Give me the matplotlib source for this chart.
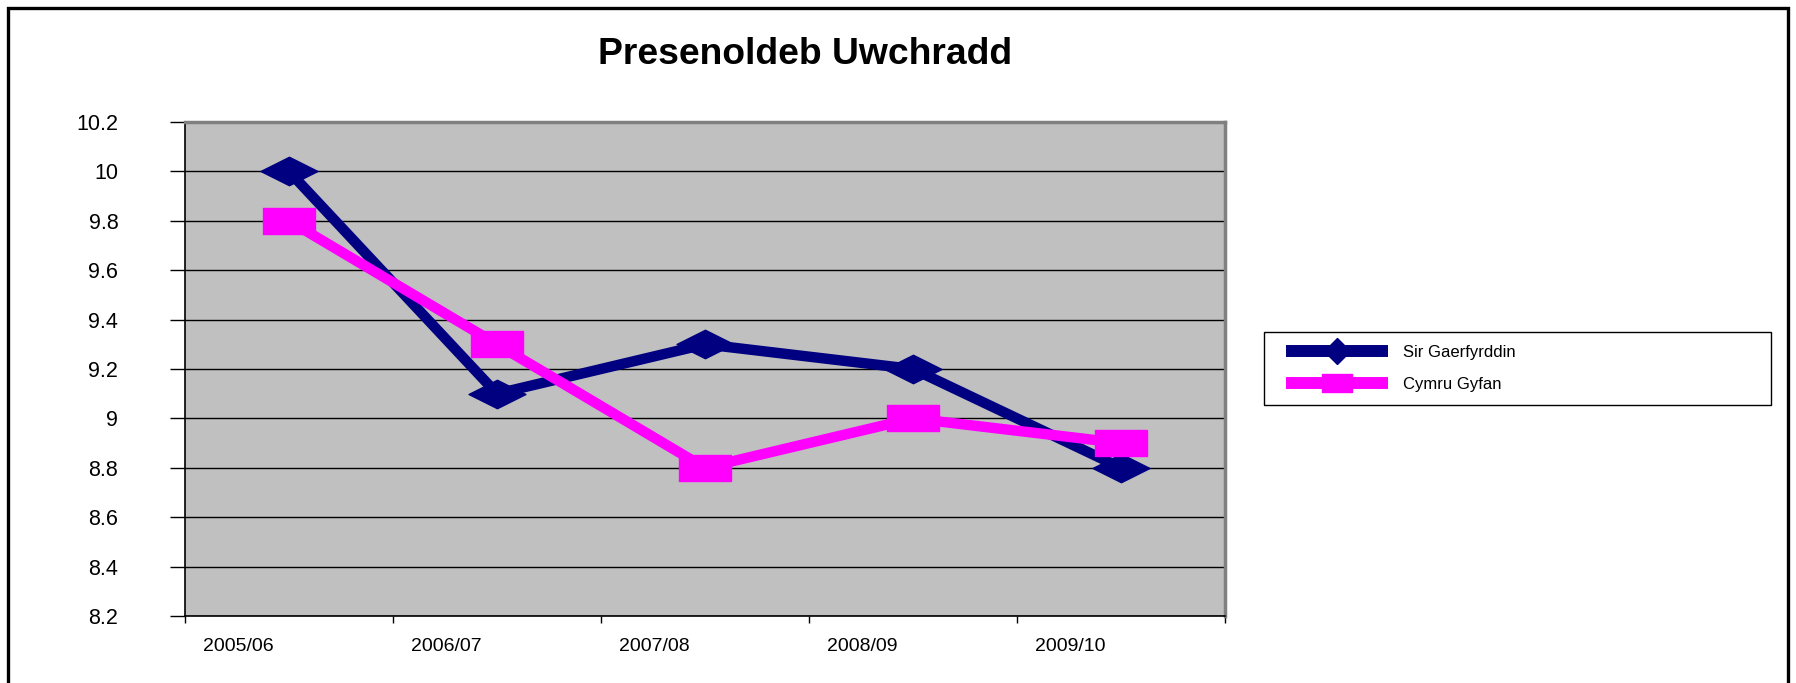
import matplotlib
matplotlib.use("Agg")
import matplotlib.pyplot as plt
from matplotlib.path import Path
from matplotlib.lines import Line2D
from matplotlib.patches import Rectangle

plt.rcParams['font.family'] = ['Liberation Sans', 'DejaVu Sans']

title = "Presenoldeb Uwchradd"
years = ["2005/06", "2006/07", "2007/08", "2008/09", "2009/10"]
sir_gaerfyrddin = [10.0, 9.1, 9.3, 9.2, 8.8]
cymru_gyfan = [9.8, 9.3, 8.8, 9.0, 8.9]
series_names = ["Sir Gaerfyrddin", "Cymru Gyfan"]
y_ticks = [8.2, 8.4, 8.6, 8.8, 9.0, 9.2, 9.4, 9.6, 9.8, 10.0, 10.2]
y_tick_labels = ["8.2", "8.4", "8.6", "8.8", "9", "9.2", "9.4", "9.6", "9.8", "10", "10.2"]

W, H = 1796, 683
fig = plt.figure(figsize=(W / 100, H / 100), dpi=100)

# flattened marker shapes (twice as wide as tall)
diamond = Path([(-1, 0), (0, 0.5), (1, 0), (0, -0.5), (-1, 0)],
               [Path.MOVETO, Path.LINETO, Path.LINETO, Path.LINETO, Path.CLOSEPOLY])
flat_square = Path([(-1, -0.5), (1, -0.5), (1, 0.5), (-1, 0.5), (-1, -0.5)],
                   [Path.MOVETO, Path.LINETO, Path.LINETO, Path.LINETO, Path.CLOSEPOLY])
legend_square = Path([(-1, -0.63), (1, -0.63), (1, 0.63), (-1, 0.63), (-1, -0.63)],
                     [Path.MOVETO, Path.LINETO, Path.LINETO, Path.LINETO, Path.CLOSEPOLY])

navy = "#000080"
magenta = "#FF00FF"

ax = fig.add_axes([185 / W, 1 - 616 / H, (1225 - 185) / W, (616 - 122) / H])
ax.set_facecolor("#C0C0C0")

x = list(range(len(years)))
ax.plot(x, sir_gaerfyrddin, color=navy, lw=7.5, marker=diamond, ms=41,
        mfc=navy, mec=navy, solid_joinstyle='miter', zorder=3)
ax.plot(x, cymru_gyfan, color=magenta, lw=7.5, marker=flat_square, ms=37,
        mfc=magenta, mec=magenta, solid_joinstyle='miter', zorder=4)

ax.set_xlim(-0.5, len(years) - 0.5)
ax.set_ylim(8.2, 10.2)

# y axis
ax.set_yticks(y_ticks)
ax.set_yticklabels(y_tick_labels, fontsize=15.5)
ax.tick_params(axis='y', direction='out', length=11, width=1, pad=37)
for lbl in ax.get_yticklabels():
    lbl.set_horizontalalignment('right')
ax.yaxis.grid(True, color='black', lw=1)
ax.set_axisbelow(True)

# x axis: tick marks between categories, labels under each category
ax.set_xticks([i - 0.5 for i in range(len(years) + 1)])
ax.set_xticklabels([])
ax.tick_params(axis='x', which='major', direction='out', length=5, width=1)
ax.set_xticks([i - 0.245 for i in x], minor=True)
ax.set_xticklabels(years, minor=True, fontsize=14)
ax.tick_params(axis='x', which='minor', length=0, pad=16)

for side in ('top', 'right'):
    ax.spines[side].set_color('#808080')
    ax.spines[side].set_linewidth(2.5)
for side in ('left', 'bottom'):
    ax.spines[side].set_color('black')
    ax.spines[side].set_linewidth(1.2)

# legend: frame drawn separately, entries placed inside it
fig.patches.append(Rectangle((1264 / W, 1 - 405 / H), (1771 - 1264) / W, (405 - 332) / H,
                             transform=fig.transFigure, facecolor='white',
                             edgecolor='black', lw=1, zorder=1))
handles = [
    Line2D([0], [0], color=navy, lw=8.6, marker='D', ms=13, mfc=navy, mec=navy,
           solid_capstyle='butt'),
    Line2D([0], [0], color=magenta, lw=8.6, marker=legend_square, ms=21.6,
           mfc=magenta, mec=magenta, solid_capstyle='butt'),
]
leg = fig.legend(handles, series_names, loc='center left',
                 bbox_to_anchor=(1286 / W, 1 - 368.5 / H),
                 fontsize=12, handlelength=6.1, handletextpad=0.9,
                 borderpad=0, labelspacing=1.05, frameon=False, borderaxespad=0)
leg.set_zorder(2)

# title
fig.text(805 / W, 1 - 54 / H, title, ha='center', va='center',
         fontsize=26.8, fontweight='bold')

# outer chart border
fig.patches.append(Rectangle((8 / W, -0.05), (1788 - 8) / W, 1.05 - 8 / H,
                             transform=fig.transFigure, fill=False,
                             edgecolor='black', lw=2.4))

fig.savefig("out.png", dpi=100)
